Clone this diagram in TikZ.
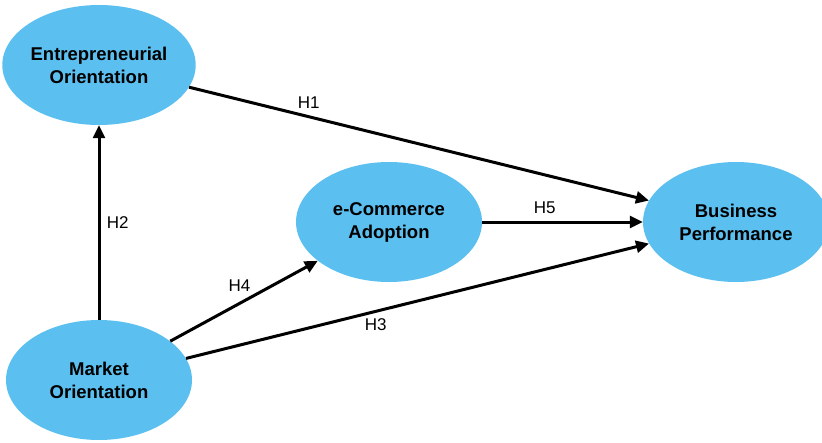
\documentclass[tikz,border=0pt]{standalone}
\usepackage{fontspec}
\setmainfont{Liberation Sans}
\usetikzlibrary{shapes.geometric, arrows.meta, positioning}
\definecolor{construct}{RGB}{91,192,240}
\tikzstyle{latent} = [ellipse, minimum width=186pt, minimum height=120pt, inner sep=0pt, text centered, align=center, fill=construct, font=\fontsize{18.5}{23}\selectfont\bfseries]
\tikzstyle{arrow} = [line width=3pt, -{Triangle[length=13pt,width=12pt]}]
\tikzstyle{hyp} = [font=\fontsize{17}{20}\selectfont]

\begin{document}
\begin{tikzpicture}[node distance=315pt, on grid]
\useasboundingbox (0,0) rectangle (822pt,-442pt);
\node (eo) [latent] at (99pt,-65pt) {Entrepreneurial\\Orientation};
\node (mo) [latent, below=315pt of eo] {Market\\Orientation};
\node (ec) [latent, above right=158pt and 290pt of mo] {e-Commerce\\Adoption};
\node (bp) [latent, right=347pt of ec] {Business\\Performance};


\draw [arrow] (eo) -- node[hyp, above=3pt, pos=0.26]{H1}(bp);
\draw [arrow] (mo) -- node[hyp, right=3pt, pos=0.5]{H2}(eo);
\draw [arrow] (mo) -- node[hyp, below=2pt, pos=0.41]{H3}(bp);
\draw [arrow] (mo) -- node[hyp, above=7pt, pos=0.47]{H4}(ec);
\draw [arrow] (ec) -- node[hyp, above=4pt, pos=0.39]{H5}(bp);
\end{tikzpicture}
\end{document}
